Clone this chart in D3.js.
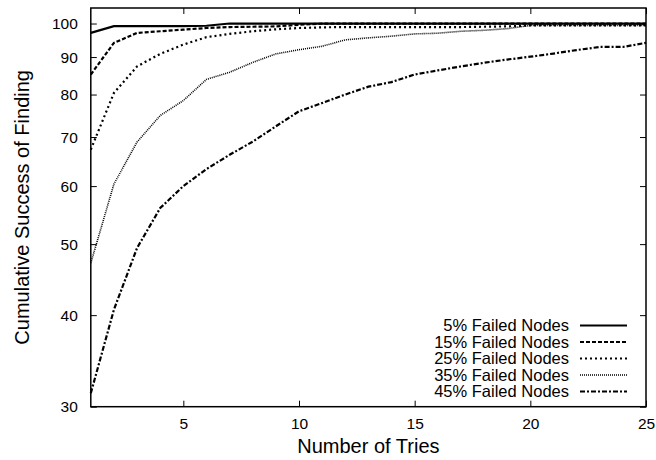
<!DOCTYPE html>
<html>
<head>
<meta charset="utf-8">
<script src="https://cdn.jsdelivr.net/npm/d3@7"></script>
<style>
  body { margin: 0; background: #fff; }
  text { font-family: "Liberation Sans", Arial, Helvetica, sans-serif; fill: #000; }
</style>
</head>
<body>
<div id="chart"></div>
<script>
// data
const tries = [1, 2, 3, 4, 5, 6, 7, 8, 9, 10, 11, 12, 13, 14, 15, 16, 17, 18, 19, 20, 21, 22, 23, 24, 25]
const failed5 = [97.1, 99.2, 99.2, 99.2, 99.2, 99.3, 100, 100, 100, 100, 100, 100, 100, 100, 100, 100, 100, 100, 100, 100, 100, 100, 100, 100, 100]
const failed15 = [85.2, 94.1, 97.1, 97.6, 98.1, 98.6, 98.9, 99.0, 99.1, 99.6, 100, 100, 100, 100, 100, 100, 100, 100, 100, 100, 100, 100, 100, 100, 100]
const failed25 = [67.3, 80.4, 87.4, 90.9, 93.6, 95.8, 96.8, 97.6, 98.2, 98.6, 98.8, 98.9, 98.9, 98.9, 98.9, 98.9, 98.9, 99.0, 99.1, 99.4, 99.4, 99.4, 99.4, 99.4, 99.4]
const failed35 = [47.1, 60.4, 68.9, 74.9, 78.5, 83.9, 85.8, 88.5, 90.9, 92.1, 93.1, 95.0, 95.6, 96.1, 96.8, 97.0, 97.6, 97.9, 98.4, 99.4, 99.4, 99.4, 99.4, 99.4, 99.4]
const failed45 = [31.3, 40.7, 49.4, 56.0, 60.0, 63.3, 66.2, 69.0, 72.4, 75.9, 77.9, 80.0, 82.0, 83.2, 85.2, 86.3, 87.4, 88.4, 89.3, 90.1, 91.0, 92.0, 92.9, 92.9, 94.1]
const seriesNames = ["5% Failed Nodes", "15% Failed Nodes", "25% Failed Nodes", "35% Failed Nodes", "45% Failed Nodes"]
const xTicks = [5, 10, 15, 20, 25]
const yTicks = [30, 40, 50, 60, 70, 80, 90, 100]

function drawChart() {
    const width = 656
    const height = 460
    const margin = {top: 8, right: 10, bottom: 53.3, left: 90.8}
    const innerWidth = width - margin.left - margin.right
    const innerHeight = height - margin.top - margin.bottom

    const svg = d3.select("#chart").append("svg")
                  .attr("width", width)
                  .attr("height", height)
                  .attr("viewBox", [0, 0, width, height])

    const chart = svg.append("g")
                     .attr("transform", `translate(${margin.left}, ${margin.top})`)

    // scales (y is logarithmic)
    const xScale = d3.scaleLinear().domain([1, 25]).range([0, innerWidth])
    const yScale = d3.scaleLog().domain([30, 105]).range([innerHeight, 0])

    // axes, ticks pointing inward, mirrored on top / right
    const axisStyle = g => {
        g.select(".domain").remove()
        g.selectAll(".tick line").attr("stroke", "#000").attr("stroke-width", 1)
        g.selectAll(".tick text").attr("font-size", "15.5px").attr("font-family", "Liberation Sans, Arial, sans-serif")
    }
    chart.append("g")
         .attr("transform", `translate(0, ${innerHeight})`)
         .call(d3.axisBottom(xScale).tickValues(xTicks).tickSizeInner(-6).tickSizeOuter(0).tickPadding(11))
         .call(axisStyle)
    chart.append("g")
         .call(d3.axisTop(xScale).tickValues(xTicks).tickSizeInner(-6).tickSizeOuter(0).tickFormat(""))
         .call(axisStyle)
    chart.append("g")
         .call(d3.axisLeft(yScale).tickValues(yTicks).tickFormat(d3.format("d")).tickSizeInner(-6).tickSizeOuter(0).tickPadding(13))
         .call(axisStyle)
    chart.append("g")
         .attr("transform", `translate(${innerWidth}, 0)`)
         .call(d3.axisRight(yScale).tickValues(yTicks).tickSizeInner(-6).tickSizeOuter(0).tickFormat(""))
         .call(axisStyle)

    // frame
    chart.append("rect")
         .attr("width", innerWidth)
         .attr("height", innerHeight)
         .attr("fill", "none")
         .attr("stroke", "#000")
         .attr("stroke-width", 1.5)

    // axis labels
    svg.append("text")
       .attr("x", margin.left + innerWidth / 2)
       .attr("y", 453)
       .attr("text-anchor", "middle")
       .attr("font-size", "20px")
       .text("Number of Tries")
    svg.append("text")
       .attr("transform", `translate(29, ${margin.top + innerHeight / 2}) rotate(-90)`)
       .attr("text-anchor", "middle")
       .attr("font-size", "20px")
       .text("Cumulative Success of Finding")

    // series
    const series = [failed5, failed15, failed25, failed35, failed45]
    const dashes = [null, "4,2", "2,3", "1,1", "5,2,2,2"]
    const widths = [2.2, 2.2, 2.2, 1.6, 2.2]
    const line = d3.line()
                   .x((d, i) => xScale(tries[i]))
                   .y(d => yScale(d))

    // legend placement
    const legendRight = 569 - margin.left
    const legendTop = 325.5 - margin.top
    const legendStep = 16.5

    series.forEach((values, k) => {
        chart.append("path")
             .attr("d", line(values))
             .attr("fill", "none")
             .attr("stroke", "#000")
             .attr("stroke-width", widths[k])
             .attr("stroke-dasharray", dashes[k])

        const ly = legendTop + k * legendStep
        chart.append("text")
             .attr("x", legendRight)
             .attr("y", ly)
             .attr("dy", "0.35em")
             .attr("text-anchor", "end")
             .attr("font-size", "16.5px")
             .text(seriesNames[k])
        chart.append("line")
             .attr("x1", legendRight + 11)
             .attr("x2", legendRight + 58)
             .attr("y1", ly)
             .attr("y2", ly)
             .attr("stroke", "#000")
             .attr("stroke-width", widths[k])
             .attr("stroke-dasharray", dashes[k])
    })
}

drawChart()
</script>
</body>
</html>
